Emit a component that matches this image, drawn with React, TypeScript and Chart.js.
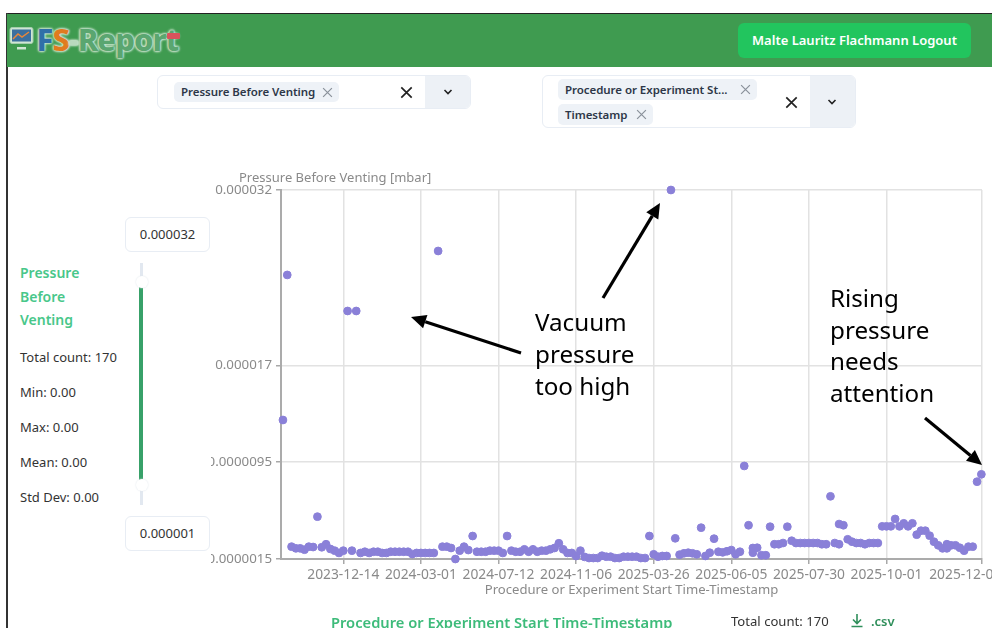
import React, { useEffect, useRef } from "react";
import { Chart, registerables } from "chart.js";

Chart.register(...registerables);

// Pressure per time slot, in 1e-6 mbar (slot index = position in the array)
const pressureMicroMbar = [
  12.99, 24.98, 2.52, 2.38, 2.38, 2.27, 2.52, 2.49, 5.0, 2.47,
  2.72, 2.33, 2.19, 2.0, 2.19, 22.0, 2.19, 22.0, 2.0, 2.1,
  2.0, 2.1, 2.1, 2.0, 2.0, 2.1, 2.1, 2.1, 2.1, 2.1,
  1.91, 2.0, 2.0, 2.0, 2.0, 2.0, 26.96, 2.52, 2.52, 2.41,
  1.5, 2.19, 2.52, 2.24, 3.4, 2.1, 2.1, 2.1, 2.19, 2.19,
  2.19, 2.0, 3.4, 2.19, 2.1, 2.1, 2.3, 2.1, 2.3, 2.1,
  2.19, 2.19, 2.3, 2.41, 2.8, 2.3, 2.0, 2.0, 1.75, 2.19,
  1.67, 1.58, 1.58, 1.58, 1.77, 1.69, 1.69, 1.58, 1.58, 1.69,
  1.69, 1.69, 1.69, 1.58, 1.58, 3.4, 1.89, 1.69, 1.75, 1.75,
  32.0, 3.21, 1.86, 1.97, 2.02, 1.97, 1.89, 4.09, 1.75, 2.02,
  3.18, 2.1, 2.05, 2.14, 2.24, 1.89, 2.1, 9.19, 4.29, 2.02,
  2.43, 1.81, 1.81, 4.17, 2.72, 2.72, 2.82, 4.17, 3.01, 2.82,
  2.82, 2.82, 2.82, 2.82, 2.82, 2.72, 2.72, 6.68, 2.82, 2.72,
  4.29, 3.13, 2.93, 2.82, 2.82, 2.72, 2.82, 2.82, 2.82, 4.2,
  4.2, 4.2, 4.81, 4.2, 4.45, 4.2, 4.45, 3.51, 3.84, 3.84,
  3.43, 2.93, 2.63, 2.38, 2.72, 2.63, 2.63, 2.43, 2.19, 2.52,
  2.52, 7.89, 8.5,
];
// Extra readings that share a slot with another one
const extraSlots = [109, 129, 154];
const extraPressureMicroMbar = [2.41, 4.39, 2.38];

const xTickSlots = [14, 32, 50, 68, 86, 104, 122, 140, 162];
// The last label sits left of its tick in the reference; the trailing spaces shift it there
const xTickLabels = [
  "2023-12-14", "2024-03-01", "2024-07-12", "2024-11-06", "2025-03-26",
  "2025-06-05", "2025-07-30", "2025-10-01", "2025-12-04\u00a0\u00a0\u00a0\u00a0\u00a0\u00a0\u00a0\u00a0\u00a0",
];
const yTickValues = [1.5, 9.5, 17.5, 32];
const yTickLabels = ["0.0000015", "0.0000095", "0.000017", "0.000032"];

const yAxisName = "Pressure Before Venting [mbar]";
const xAxisName = "Procedure or Experiment Start Time-Timestamp";
const stats = ["Total count: 170", "Min: 0.00", "Max: 0.00", "Mean: 0.00", "Std Dev: 0.00"];

const UI_FONT = '"Noto Sans", "Open Sans", sans-serif';
const AXIS_FONT = '"Noto Sans", "Open Sans", sans-serif';

const abs = (left: number, top: number, extra: React.CSSProperties = {}): React.CSSProperties => ({
  position: "absolute",
  left,
  top,
  ...extra,
});

function Cross({ x, y, size, color, width }: { x: number; y: number; size: number; color: string; width: number }) {
  return (
    <svg style={abs(x - size / 2, y - size / 2)} width={size} height={size} viewBox="0 0 10 10">
      <path d="M1 1L9 9M9 1L1 9" stroke={color} strokeWidth={width} fill="none" />
    </svg>
  );
}

function Chevron({ x, y }: { x: number; y: number }) {
  return (
    <svg style={abs(x - 5, y - 4)} width={10} height={8} viewBox="0 0 10 8">
      <path d="M1.5 2L5 5.5L8.5 2" stroke="#222" strokeWidth={1.6} fill="none" />
    </svg>
  );
}

function Chip({ x, y, w, h, text }: { x: number; y: number; w: number; h: number; text: string }) {
  return (
    <>
      <div
        style={abs(x, y, {
          width: w,
          height: h,
          background: "#eef2f7",
          borderRadius: 5,
          color: "#2d3748",
          font: `600 11.5px ${UI_FONT}`,
          lineHeight: `${h}px`,
          letterSpacing: -0.05,
          paddingLeft: 7,
          boxSizing: "border-box",
          whiteSpace: "nowrap",
        })}
      >
        {text}
      </div>
      <Cross x={x + w - 12} y={y + h / 2} size={11} color="#8a919b" width={1.1} />
    </>
  );
}

function SelectBox({ x, y, w, h, sep }: { x: number; y: number; w: number; h: number; sep: number }) {
  return (
    <div
      style={abs(x, y, {
        width: w,
        height: h,
        boxSizing: "border-box",
        border: "1px solid #e8edf4",
        borderRadius: 6,
        overflow: "hidden",
      })}
    >
      <div style={{ position: "absolute", left: sep, top: 0, right: 0, bottom: 0, background: "#edf1f6" }} />
    </div>
  );
}

function ValueBox({ y, text }: { y: number; text: string }) {
  return (
    <div
      style={abs(125, y, {
        width: 85,
        height: 35,
        boxSizing: "border-box",
        border: "1px solid #e8edf4",
        borderRadius: 6,
        textAlign: "center",
        font: `13px ${UI_FONT}`,
        lineHeight: "33px",
        color: "#333",
      })}
    >
      {text}
    </div>
  );
}

function Arrow({ x1, y1, x2, y2 }: { x1: number; y1: number; x2: number; y2: number }) {
  const a = Math.atan2(y2 - y1, x2 - x1);
  const L = 15;
  const W = 7;
  const bx = x2 - L * Math.cos(a);
  const by = y2 - L * Math.sin(a);
  const nx = -Math.sin(a) * W;
  const ny = Math.cos(a) * W;
  return (
    <>
      <line x1={x1} y1={y1} x2={bx} y2={by} stroke="#000" strokeWidth={3.2} />
      <polygon points={`${x2},${y2} ${bx + nx},${by + ny} ${bx - nx},${by - ny}`} fill="#000" />
    </>
  );
}

export default function App() {
  const canvasRef = useRef<HTMLCanvasElement | null>(null);

  useEffect(() => {
    if (!canvasRef.current) return;
    const points = pressureMicroMbar.map((y, x) => ({ x, y }));
    extraSlots.forEach((x, i) => points.push({ x, y: extraPressureMicroMbar[i] }));

    const yAxisNamePlugin = {
      id: "yAxisName",
      afterDraw(chart: Chart) {
        const { ctx, chartArea } = chart;
        ctx.save();
        ctx.font = `13px ${AXIS_FONT}`;
        ctx.fillStyle = "#8a8a8a";
        ctx.textBaseline = "middle";
        ctx.textAlign = "left";
        ctx.fillText(yAxisName, chartArea.left - 42, chartArea.top - 12);
        ctx.restore();
      },
    };

    const chart = new Chart(canvasRef.current, {
      type: "scatter",
      data: {
        datasets: [
          {
            label: yAxisName,
            data: points,
            backgroundColor: "#8a80d8",
            borderColor: "#8a80d8",
            pointRadius: 3.9,
            pointHoverRadius: 4,
            clip: false,
          },
        ],
      },
      options: {
        animation: false,
        responsive: false,
        layout: { padding: { top: 25, right: 60, left: 0, bottom: 0 } },
        plugins: { legend: { display: false }, tooltip: { enabled: false }, title: { display: false } },
        scales: {
          x: {
            type: "linear",
            min: -0.45,
            max: 162.15,
            afterBuildTicks(scale: any) {
              scale.ticks = xTickSlots.map((value) => ({ value }));
            },
            afterFit(scale: any) {
              scale.height = 69;
            },
            grid: { color: "#e2e2e2", lineWidth: 1.5, tickColor: "#a8a8a8", tickLength: 5 },
            border: { color: "#ababab", width: 2 },
            ticks: {
              autoSkip: false,
              maxRotation: 0,
              minRotation: 0,
              padding: 3,
              color: "#8a8a8a",
              font: { family: AXIS_FONT, size: 13.8 },
              callback: (value: any) => {
                const i = xTickSlots.indexOf(Number(value));
                return i >= 0 ? xTickLabels[i] : "";
              },
            },
            title: {
              display: true,
              text: xAxisName,
              color: "#8a8a8a",
              font: { family: AXIS_FONT, size: 13.1 },
              padding: { top: 0, bottom: 30 },
            },
          },
          y: {
            type: "linear",
            min: 1.5,
            max: 32,
            afterBuildTicks(scale: any) {
              scale.ticks = yTickValues.map((value) => ({ value }));
            },
            afterFit(scale: any) {
              scale.width = 120;
            },
            grid: { color: "#e2e2e2", lineWidth: 1.5, tickColor: "#a8a8a8", tickLength: 5 },
            border: { color: "#ababab", width: 2 },
            ticks: {
              autoSkip: false,
              padding: 4,
              color: "#8a8a8a",
              font: { family: AXIS_FONT, size: 13.3 },
              callback: (value: any) => {
                const i = yTickValues.indexOf(Number(value));
                return i >= 0 ? yTickLabels[i] : "";
              },
            },
          },
        },
      },
      plugins: [yAxisNamePlugin],
    } as any);
    return () => chart.destroy();
  }, []);

  const annotation: React.CSSProperties = {
    font: `24.2px ${UI_FONT}`,
    lineHeight: "32px",
    color: "#000",
  };

  return (
    <div style={abs(0, 0, { width: 992, height: 628, overflow: "hidden", background: "#fff", fontFamily: UI_FONT })}>
      {/* screenshot frame */}
      <div style={abs(6, 13, { width: 986, height: 1.5, background: "#222" })} />
      <div style={abs(6, 13, { width: 1.5, height: 615, background: "#333" })} />

      {/* header */}
      <div style={abs(7, 14, { width: 985, height: 53, background: "#3f9b50" })} />
      <svg style={abs(9, 26)} width={26} height={26} viewBox="0 0 26 26">
        <rect x={1} y={1.5} width={23} height={16} rx={2} fill="#cfe6d4" stroke="#a5cdae" />
        <rect x={3} y={3.5} width={19} height={12} fill="#3b6f9e" />
        <path d="M4 13L9 8L13 11L20 6" stroke="#e8873a" strokeWidth={1.5} fill="none" />
        <rect x={8} y={21} width={9} height={2.5} fill="#cfe6d4" />
      </svg>
      <div
        style={abs(36.5, 18, {
          font: `800 31px ${UI_FONT}`,
          lineHeight: "42px",
          letterSpacing: -1,
          whiteSpace: "nowrap",
          textShadow: "0 0 2px #cfe6d2, 0 0 2px #cfe6d2, 0 0 3px #cfe6d2, 0 0 3px #cfe6d2",
        })}
      >
        <span style={{ color: "#2f6fa8" }}>F</span>
        <span style={{ color: "#e07b1f" }}>S</span>
        <span style={{ color: "#b9d9be" }}>-</span>
        <span style={{ color: "#5aa670" }}>Report</span>
      </div>
      <div style={abs(167, 32.5, { width: 13, height: 6, background: "#d9535c", borderRadius: 1 })} />
      <div
        style={abs(738, 23, {
          width: 233,
          height: 35,
          background: "#22c55e",
          borderRadius: 6,
          color: "#fff",
          font: `600 13px ${UI_FONT}`,
          lineHeight: "35px",
          textAlign: "center",
          whiteSpace: "nowrap",
        })}
      >
        Malte Lauritz Flachmann Logout
      </div>

      {/* selects */}
      <SelectBox x={157} y={75} w={314} h={34} sep={267} />
      <Chip x={174} y={82} w={165} h={20} text="Pressure Before Venting" />
      <Cross x={406} y={92} size={13} color="#222" width={1.3} />
      <Chevron x={448} y={92} />

      <SelectBox x={542} y={75} w={314} h={53} sep={267} />
      <Chip x={558} y={79} w={199} h={21} text="Procedure or Experiment St..." />
      <Chip x={558} y={104} w={95} h={21} text="Timestamp" />
      <Cross x={791} y={102} size={13} color="#222" width={1.3} />
      <Chevron x={832} y={102} />

      {/* left panel */}
      <ValueBox y={217} text="0.000032" />
      <ValueBox y={516} text="0.000001" />
      <div style={abs(140, 263, { width: 3, height: 242, background: "#e2e8f0" })} />
      <div style={abs(139.4, 284, { width: 4, height: 196, background: "#38a169" })} />
      <div style={abs(135.5, 276, { width: 12, height: 12, borderRadius: 6, background: "#fff", boxShadow: "0 0 2px #dde3ea" })} />
      <div style={abs(135.5, 479, { width: 12, height: 12, borderRadius: 6, background: "#fff", boxShadow: "0 0 2px #dde3ea" })} />
      <div style={abs(20, 261, { font: `600 14px ${UI_FONT}`, lineHeight: "23.7px", color: "#48c78a", width: 70 })}>
        Pressure
        <br />
        Before
        <br />
        Venting
      </div>
      {stats.map((s, i) => (
        <div
          key={s}
          style={abs(20, 347 + i * 35, { font: `13px ${UI_FONT}`, lineHeight: "20px", color: "#333", whiteSpace: "nowrap" })}
        >
          {s}
        </div>
      ))}

      {/* chart, clipped at the left and the right like the reference */}
      <div style={abs(211, 165, { width: 781, height: 463, overflow: "hidden" })}>
        <canvas ref={canvasRef} width={881} height={463} style={abs(-50, 0, { width: 881, height: 463, display: "block" })} />
      </div>

      {/* annotations */}
      <svg style={abs(0, 0)} width={992} height={628}>
        <Arrow x1={521} y1={353} x2={411} y2={317} />
        <Arrow x1={603} y1={298} x2={660} y2={203} />
        <Arrow x1={925} y1={418} x2={982} y2={465} />
      </svg>
      <div style={abs(535, 306, annotation)}>
        Vacuum
        <br />
        pressure
        <br />
        too high
      </div>
      <div style={abs(830, 282, { ...annotation, lineHeight: "31.7px" })}>
        Rising
        <br />
        pressure
        <br />
        needs
        <br />
        attention
      </div>

      {/* footer */}
      <div style={abs(331, 611, { font: `600 14.7px ${UI_FONT}`, lineHeight: "22px", color: "#3dbb7a", whiteSpace: "nowrap" })}>
        {xAxisName}
      </div>
      <div style={abs(731, 611, { font: `13.1px ${UI_FONT}`, lineHeight: "20px", color: "#333", whiteSpace: "nowrap" })}>
        Total count: 170
      </div>
      <svg style={abs(850, 613)} width={14} height={16} viewBox="0 0 14 16">
        <path d="M7 1V10M3 6.5L7 10.5L11 6.5M1.5 13.5H12.5" stroke="#2f8f5b" strokeWidth={1.6} fill="none" />
      </svg>
      <div style={abs(871, 611, { font: `600 13px ${UI_FONT}`, lineHeight: "20px", color: "#2f8f5b" })}>.csv</div>
    </div>
  );
}
